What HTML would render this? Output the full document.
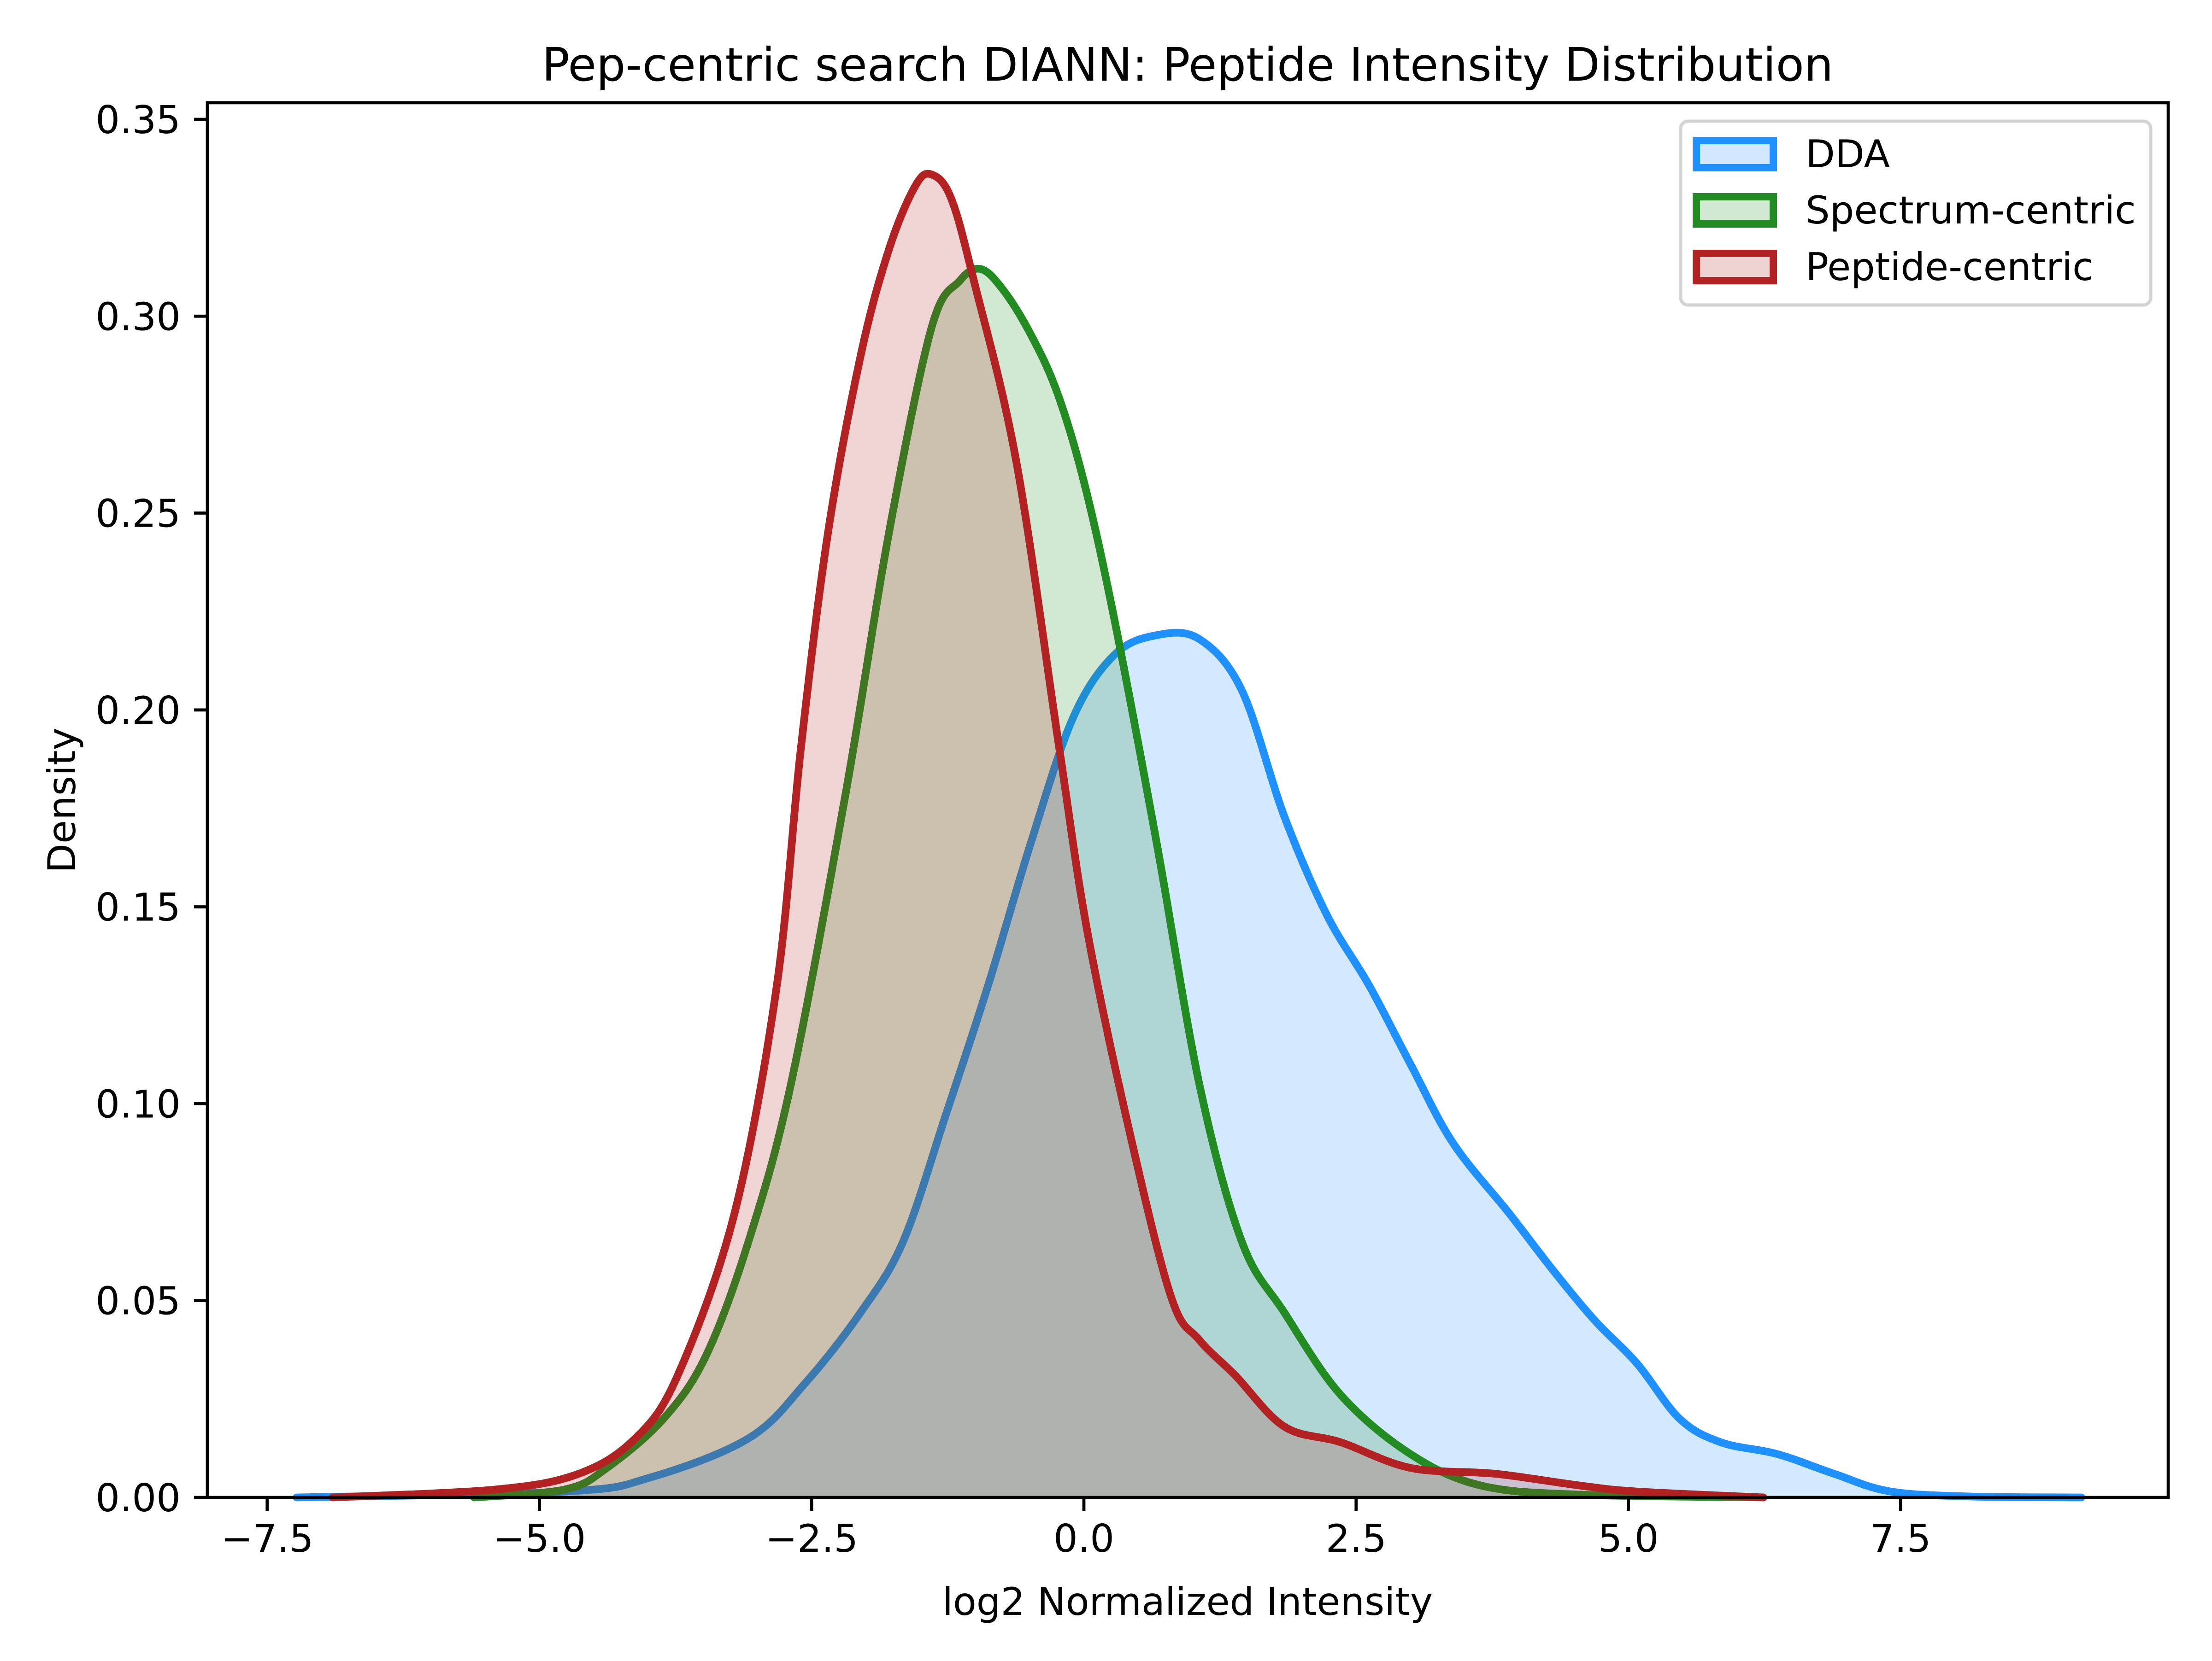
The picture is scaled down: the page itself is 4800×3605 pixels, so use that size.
<!DOCTYPE html>
<html><head><meta charset="utf-8"><style>
html,body{margin:0;padding:0;background:#fff}
svg text{font-family:"DejaVu Sans","Liberation Sans",sans-serif;fill:#000}
</style></head><body>
<svg id="chart" width="4800" height="3600" viewBox="0 0 4800 3600" xmlns="http://www.w3.org/2000/svg">
<rect width="4800" height="3600" fill="#fff"/>
<text x="2577" y="175" font-size="100" text-anchor="middle">Pep-centric search DIANN: Peptide Intensity Distribution</text>
<g id="series"></g>
<g id="axes"></g>
<text x="2577" y="3505" font-size="83" text-anchor="middle">log2 Normalized Intensity</text>
<text transform="translate(163,1737) rotate(-90)" font-size="83" text-anchor="middle">Density</text>
<g>
<rect x="3647" y="263" width="1020" height="399" rx="16" fill="#fff" fill-opacity="0.8" stroke="#d3d3d3" stroke-width="7"/>
<g>
<rect x="3681" y="305" width="167" height="59" fill="#d2e8ff" stroke="#1e90ff" stroke-width="16"/>
<text x="3918" y="363" font-size="83">DDA</text></g>
<g>
<rect x="3681" y="427" width="167" height="59" fill="#d3e8d3" stroke="#228b22" stroke-width="16"/>
<text x="3918" y="485" font-size="83">Spectrum-centric</text></g>
<g>
<rect x="3681" y="550" width="167" height="59" fill="#efd3d3" stroke="#b22222" stroke-width="16"/>
<text x="3918" y="608" font-size="83">Peptide-centric</text></g>
</g>
</svg>
<script>
const xTicks = [-7.5, -5.0, -2.5, 0.0, 2.5, 5.0, 7.5];
const xTickLabels = ["\u22127.5", "\u22125.0", "\u22122.5", "0.0", "2.5", "5.0", "7.5"];
const yTicks = [0, 0.05, 0.10, 0.15, 0.20, 0.25, 0.30, 0.35];
const yTickLabels = ["0.00", "0.05", "0.10", "0.15", "0.20", "0.25", "0.30", "0.35"];
const ddaX = [-7.23,-4.77,-3.99,-3.08,-2.56,-2.05,-1.66,-1.27,-0.88,-0.49,-0.10,0.28,0.67,1.06,1.45,1.84,2.23,2.62,3.0,3.39,3.91,4.30,4.69,5.08,5.47,5.85,6.37,6.89,7.41,8.19,9.16];
const ddaY = [0,0.0015,0.005,0.015,0.029,0.047,0.065,0.097,0.130,0.166,0.198,0.214,0.219,0.218,0.205,0.173,0.148,0.130,0.110,0.090,0.072,0.058,0.045,0.034,0.020,0.014,0.011,0.006,0.0015,0.0002,0];
const specX = [-5.6,-4.77,-4.38,-3.86,-3.47,-3.08,-2.69,-2.18,-1.79,-1.40,-1.14,-0.95,-0.75,-0.50,-0.25,0.0,0.28,0.67,1.06,1.45,1.84,2.36,3.0,3.65,4.56,6.24];
const specY = [0,0.002,0.0075,0.020,0.036,0.065,0.105,0.18,0.245,0.297,0.309,0.312,0.307,0.296,0.281,0.258,0.223,0.166,0.105,0.065,0.047,0.026,0.011,0.003,0.0007,0];
const pepX = [-6.9,-5.41,-4.64,-4.12,-3.73,-3.21,-2.82,-2.6,-2.35,-2.05,-1.79,-1.55,-1.40,-1.22,-1.01,-0.62,-0.23,0.03,0.41,0.80,1.06,1.39,1.84,2.36,3.0,3.78,4.56,5.08,6.24];
const pepY = [0,0.002,0.006,0.015,0.031,0.072,0.130,0.190,0.245,0.290,0.317,0.333,0.336,0.330,0.309,0.263,0.191,0.144,0.094,0.051,0.040,0.031,0.018,0.014,0.0075,0.006,0.003,0.0015,0];

const L=450,R=4705,T=223,B=3250;
const X=v=>2352+v*236.3;
const Y=v=>B-v*(2991/0.35);
const NS="http://www.w3.org/2000/svg";
function mk(tag,attrs,parent){const e=document.createElementNS(NS,tag);for(const k in attrs)e.setAttribute(k,attrs[k]);parent.appendChild(e);return e;}
function smooth(xs,ys){
  const p=xs.map((x,i)=>[X(x),Y(ys[i])]);
  let d="M"+p[0][0]+","+p[0][1];
  for(let i=0;i<p.length-1;i++){
    const p0=p[Math.max(0,i-1)],p1=p[i],p2=p[i+1],p3=p[Math.min(p.length-1,i+2)];
    const c1=[p1[0]+(p2[0]-p0[0])/6,p1[1]+(p2[1]-p0[1])/6];
    const c2=[p2[0]-(p3[0]-p1[0])/6,p2[1]-(p3[1]-p1[1])/6];
    d+=" C"+c1[0]+","+Math.min(B,c1[1])+" "+c2[0]+","+Math.min(B,c2[1])+" "+p2[0]+","+p2[1];
  }
  return d;
}
const sg=document.getElementById("series");
const series=[["dda",ddaX,ddaY,"#1e90ff"],["spectrum-centric",specX,specY,"#228b22"],["peptide-centric",pepX,pepY,"#b22222"]];
series.forEach(s=>{
  const d=smooth(s[1],s[2]);
  const f=mk("path",{d:d+" L"+X(s[1][s[1].length-1])+","+B+" L"+X(s[1][0])+","+B+" Z",fill:s[3],"fill-opacity":0.2,stroke:"none"},sg);
  
  
  const l=mk("path",{d:d,fill:"none",stroke:s[3],"stroke-width":16.7,"stroke-linejoin":"round","stroke-linecap":"round"},sg);
  
  
});
const ag=document.getElementById("axes");
const fr=mk("rect",{x:L,y:T,width:R-L,height:B-T,fill:"none",stroke:"#000","stroke-width":6.7},ag);


xTicks.forEach((v,i)=>{
  const t=mk("line",{x1:X(v),x2:X(v),y1:B,y2:B+29,stroke:"#000","stroke-width":6.7},ag);
  
  
  const tx=mk("text",{x:X(v),y:B+118,"font-size":83,"text-anchor":"middle"},ag);
  tx.textContent=xTickLabels[i];
  
  
});
yTicks.forEach((v,i)=>{
  const t=mk("line",{x1:L-29,x2:L,y1:Y(v),y2:Y(v),stroke:"#000","stroke-width":6.7},ag);
  
  
  const tx=mk("text",{x:L-58,y:Y(v)+30,"font-size":83,"text-anchor":"end"},ag);
  tx.textContent=yTickLabels[i];
  
  
});
</script>
</body></html>
